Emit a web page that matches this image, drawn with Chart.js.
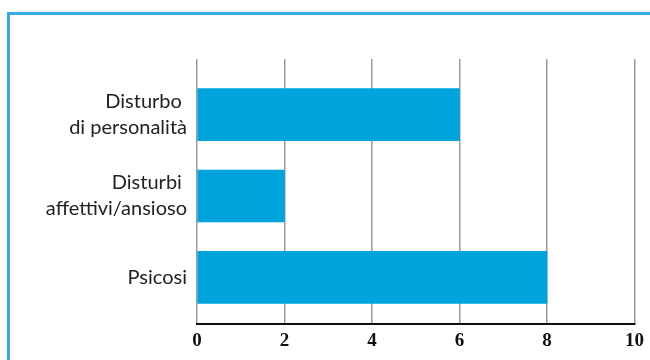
<!DOCTYPE html>
<html>
<head>
<meta charset="utf-8">
<script src="https://cdn.jsdelivr.net/npm/chart.js@4"></script>
<style>
    body { margin: 0; background: #fff; }
    #wrap { position: relative; width: 650px; height: 360px; overflow: hidden; }
    #frame {
        position: absolute; left: 7px; top: 12px; right: -10px; bottom: -10px;
        border-top: 3px solid #3aa9e1; border-left: 3px solid #3aa9e1;
    }
    #chart { position: absolute; left: 0; top: 0; }
</style>
</head>
<body>
<div id="wrap">
    <div id="frame"></div>
    <canvas id="chart" width="650" height="360"></canvas>
</div>
<script>
const categories = [['Disturbo ', 'di personalità'], ['Disturbi ', 'affettivi/ansioso'], ['Psicosi']];
const values = [6, 2, 8];
const xTicks = [0, 2, 4, 6, 8, 10];

document.addEventListener('DOMContentLoaded', function () {
    const ctx = document.getElementById('chart').getContext('2d');

    new Chart(ctx, {
        type: 'bar',
        data: {
            datasets: [{
                data: values.map((v, i) => ({ x: v, y: i })),
                backgroundColor: '#00a4dc',
                borderWidth: 0,
                barThickness: 52
            }]
        },
        options: {
            indexAxis: 'y',
            responsive: false,
            animation: false,
            layout: { padding: { left: 0, top: 59, right: 14, bottom: 0 } },
            plugins: {
                legend: { display: false },
                tooltip: { enabled: false }
            },
            scales: {
                x: {
                    type: 'linear',
                    min: 0,
                    max: 10,
                    afterBuildTicks: function (scale) {
                        scale.ticks = xTicks.map(v => ({ value: v }));
                    },
                    afterFit: function (scale) { scale.height = 32; },
                    grid: { color: '#9a9a9a', lineWidth: 1.5, drawTicks: false },
                    border: { color: '#111', width: 2 },
                    ticks: {
                        padding: 6,
                        color: '#111',
                        font: { family: 'Liberation Serif', size: 19, weight: 'bold' }
                    }
                },
                y: {
                    type: 'linear',
                    reverse: true,
                    offset: false,
                    min: -0.683,
                    max: 2.573,
                    afterBuildTicks: function (scale) {
                        scale.ticks = categories.map((c, i) => ({ value: i }));
                    },
                    afterFit: function (scale) { scale.width = 197; },
                    grid: { display: false, offset: false, drawTicks: false },
                    border: { display: false },
                    ticks: {
                        padding: 10,
                        color: '#222',
                        font: { family: 'Lato', size: 20, lineHeight: 1.3 },
                        callback: function (value) { return categories[value]; }
                    }
                }
            }
        }
    });
});
</script>
</body>
</html>
